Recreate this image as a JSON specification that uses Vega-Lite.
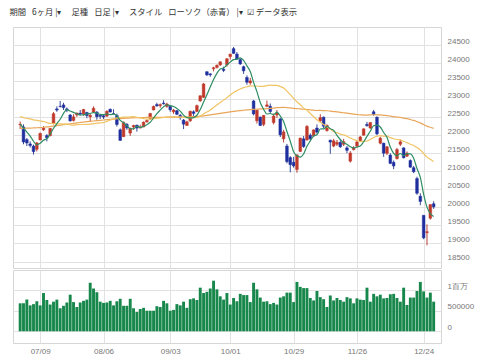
{
"$schema": "https://vega.github.io/schema/vega-lite/v6.json",
"background": "white",
"padding": {"left": 9, "top": 8, "right": 0, "bottom": 0},
"spacing": 0,
"title": {"text": "期間\u2002 6ヶ月 |▾\u2003 足種\u2002 日足 |▾\u2003 スタイル\u2002 ローソク（赤青） |▾\u2002☑ データ表示", "anchor": "start", "fontSize": 8.3, "font": "Noto Sans CJK JP", "fontWeight": "normal", "color": "#333", "offset": 10, "dx": -3},
"config": {
  "view": {"stroke": "#d6d6d6"},
  "axis": {"gridColor": "#e2e2e2", "labelFont": "Liberation Sans", "labelColor": "#777", "labelFontSize": 8, "ticks": false, "domain": false, "title": null, "labelOverlap": false},
  "axisY": {"labelOverlap": false}
},
"datasets": {"d": [
{"i":0,"d":"06/29","o":22290,"h":22380,"l":22170,"c":22305,"v":680000,"m5":22305,"m25":22515,"m75":22190},
{"i":1,"d":"07/02","o":22230,"h":22300,"l":21750,"c":21812,"v":680000,"m5":22200,"m25":22488,"m75":22192},
{"i":2,"d":"07/03","o":21880,"h":21920,"l":21700,"c":21786,"v":770000,"m5":22089,"m25":22465,"m75":22195},
{"i":3,"d":"07/04","o":21760,"h":21830,"l":21660,"c":21717,"v":630000,"m5":21978,"m25":22453,"m75":22198},
{"i":4,"d":"07/05","o":21700,"h":21740,"l":21463,"c":21547,"v":660000,"m5":21833,"m25":22427,"m75":22202},
{"i":5,"d":"07/06","o":21610,"h":21810,"l":21550,"c":21788,"v":730000,"m5":21730,"m25":22412,"m75":22207},
{"i":6,"d":"07/09","o":21870,"h":22070,"l":21860,"c":22052,"v":630000,"m5":21778,"m25":22395,"m75":22213},
{"i":7,"d":"07/10","o":22150,"h":22250,"l":22120,"c":22197,"v":930000,"m5":21860,"m25":22381,"m75":22221},
{"i":8,"d":"07/11","o":21990,"h":22030,"l":21830,"c":21932,"v":760000,"m5":21903,"m25":22353,"m75":22230},
{"i":9,"d":"07/12","o":21990,"h":22200,"l":21970,"c":22188,"v":650000,"m5":22031,"m25":22328,"m75":22241},
{"i":10,"d":"07/13","o":22330,"h":22640,"l":22300,"c":22597,"v":720000,"m5":22193,"m25":22324,"m75":22253},
{"i":11,"d":"07/17","o":22730,"h":22800,"l":22650,"c":22698,"v":770000,"m5":22322,"m25":22320,"m75":22266},
{"i":12,"d":"07/18","o":22800,"h":22950,"l":22770,"c":22794,"v":560000,"m5":22442,"m25":22316,"m75":22279},
{"i":13,"d":"07/19","o":22840,"h":22900,"l":22700,"c":22765,"v":620000,"m5":22608,"m25":22308,"m75":22292},
{"i":14,"d":"07/20","o":22730,"h":22770,"l":22640,"c":22697,"v":700000,"m5":22710,"m25":22307,"m75":22305},
{"i":15,"d":"07/23","o":22560,"h":22590,"l":22380,"c":22397,"v":890000,"m5":22670,"m25":22289,"m75":22318},
{"i":16,"d":"07/24","o":22410,"h":22580,"l":22380,"c":22510,"v":710000,"m5":22633,"m25":22282,"m75":22330},
{"i":17,"d":"07/25","o":22560,"h":22630,"l":22510,"c":22614,"v":590000,"m5":22597,"m25":22295,"m75":22342},
{"i":18,"d":"07/26","o":22610,"h":22700,"l":22550,"c":22587,"v":700000,"m5":22561,"m25":22297,"m75":22353},
{"i":19,"d":"07/27","o":22590,"h":22730,"l":22540,"c":22713,"v":740000,"m5":22564,"m25":22297,"m75":22364},
{"i":20,"d":"07/30","o":22630,"h":22650,"l":22470,"c":22545,"v":770000,"m5":22594,"m25":22299,"m75":22375},
{"i":21,"d":"07/31","o":22510,"h":22590,"l":22370,"c":22554,"v":1180000,"m5":22603,"m25":22307,"m75":22385},
{"i":22,"d":"08/01","o":22640,"h":22800,"l":22620,"c":22747,"v":1040000,"m5":22629,"m25":22323,"m75":22395},
{"i":23,"d":"08/02","o":22640,"h":22670,"l":22430,"c":22513,"v":950000,"m5":22614,"m25":22333,"m75":22405},
{"i":24,"d":"08/03","o":22550,"h":22580,"l":22450,"c":22525,"v":720000,"m5":22577,"m25":22343,"m75":22414},
{"i":25,"d":"08/06","o":22540,"h":22560,"l":22450,"c":22507,"v":690000,"m5":22569,"m25":22351,"m75":22423},
{"i":26,"d":"08/07","o":22530,"h":22690,"l":22510,"c":22663,"v":700000,"m5":22591,"m25":22385,"m75":22432},
{"i":27,"d":"08/08","o":22720,"h":22740,"l":22630,"c":22644,"v":740000,"m5":22570,"m25":22420,"m75":22440},
{"i":28,"d":"08/09","o":22600,"h":22720,"l":22580,"c":22598,"v":630000,"m5":22587,"m25":22455,"m75":22448},
{"i":29,"d":"08/10","o":22550,"h":22600,"l":22240,"c":22298,"v":730000,"m5":22542,"m25":22485,"m75":22456},
{"i":30,"d":"08/13","o":22150,"h":22190,"l":21850,"c":21857,"v":790000,"m5":22412,"m25":22488,"m75":22463},
{"i":31,"d":"08/14","o":21960,"h":22380,"l":21950,"c":22356,"v":620000,"m5":22351,"m25":22500,"m75":22469},
{"i":32,"d":"08/15","o":22300,"h":22340,"l":22150,"c":22204,"v":620000,"m5":22263,"m25":22500,"m75":22474},
{"i":33,"d":"08/16","o":22060,"h":22210,"l":21980,"c":22192,"v":790000,"m5":22181,"m25":22511,"m75":22479},
{"i":34,"d":"08/17","o":22230,"h":22290,"l":22150,"c":22270,"v":560000,"m5":22176,"m25":22514,"m75":22483},
{"i":35,"d":"08/20","o":22280,"h":22290,"l":22100,"c":22199,"v":470000,"m5":22244,"m25":22498,"m75":22486},
{"i":36,"d":"08/21","o":22200,"h":22290,"l":22190,"c":22220,"v":540000,"m5":22217,"m25":22479,"m75":22489},
{"i":37,"d":"08/22","o":22230,"h":22380,"l":22220,"c":22363,"v":570000,"m5":22249,"m25":22462,"m75":22491},
{"i":38,"d":"08/23","o":22370,"h":22440,"l":22350,"c":22411,"v":500000,"m5":22293,"m25":22447,"m75":22493},
{"i":39,"d":"08/24","o":22460,"h":22620,"l":22430,"c":22602,"v":500000,"m5":22359,"m25":22444,"m75":22495},
{"i":40,"d":"08/27","o":22700,"h":22820,"l":22690,"c":22800,"v":500000,"m5":22479,"m25":22460,"m75":22496},
{"i":41,"d":"08/28","o":22850,"h":22900,"l":22790,"c":22813,"v":610000,"m5":22598,"m25":22472,"m75":22497},
{"i":42,"d":"08/29","o":22820,"h":22880,"l":22760,"c":22848,"v":590000,"m5":22695,"m25":22481,"m75":22498},
{"i":43,"d":"08/30","o":22890,"h":22970,"l":22850,"c":22870,"v":740000,"m5":22787,"m25":22492,"m75":22499},
{"i":44,"d":"08/31","o":22800,"h":22900,"l":22760,"c":22865,"v":680000,"m5":22839,"m25":22499,"m75":22500},
{"i":45,"d":"09/03","o":22800,"h":22810,"l":22650,"c":22707,"v":500000,"m5":22821,"m25":22505,"m75":22501},
{"i":46,"d":"09/04","o":22650,"h":22730,"l":22590,"c":22697,"v":520000,"m5":22797,"m25":22511,"m75":22502},
{"i":47,"d":"09/05","o":22680,"h":22700,"l":22560,"c":22581,"v":660000,"m5":22744,"m25":22504,"m75":22503},
{"i":48,"d":"09/06","o":22550,"h":22590,"l":22430,"c":22488,"v":630000,"m5":22668,"m25":22503,"m75":22504},
{"i":49,"d":"09/07","o":22420,"h":22450,"l":22170,"c":22307,"v":720000,"m5":22556,"m25":22494,"m75":22505},
{"i":50,"d":"09/10","o":22270,"h":22400,"l":22260,"c":22373,"v":570000,"m5":22489,"m25":22489,"m75":22507},
{"i":51,"d":"09/11","o":22400,"h":22680,"l":22370,"c":22665,"v":780000,"m5":22483,"m25":22489,"m75":22510},
{"i":52,"d":"09/12","o":22650,"h":22690,"l":22530,"c":22605,"v":800000,"m5":22488,"m25":22488,"m75":22514},
{"i":53,"d":"09/13","o":22660,"h":22850,"l":22640,"c":22821,"v":760000,"m5":22554,"m25":22496,"m75":22520},
{"i":54,"d":"09/14","o":22950,"h":23100,"l":22930,"c":23095,"v":1060000,"m5":22712,"m25":22528,"m75":22528},
{"i":55,"d":"09/18","o":23050,"h":23450,"l":23030,"c":23421,"v":930000,"m5":22921,"m25":22591,"m75":22538},
{"i":56,"d":"09/19","o":23760,"h":23770,"l":23640,"c":23673,"v":960000,"m5":23123,"m25":22644,"m75":22550},
{"i":57,"d":"09/20","o":23700,"h":23720,"l":23620,"c":23675,"v":1040000,"m5":23337,"m25":22702,"m75":22563},
{"i":58,"d":"09/21","o":23840,"h":23900,"l":23770,"c":23870,"v":1230000,"m5":23547,"m25":22770,"m75":22577},
{"i":59,"d":"09/25","o":23880,"h":23960,"l":23850,"c":23940,"v":1020000,"m5":23716,"m25":22836,"m75":22591},
{"i":60,"d":"09/26","o":23950,"h":24050,"l":23920,"c":24034,"v":850000,"m5":23838,"m25":22910,"m75":22605},
{"i":61,"d":"09/27","o":23830,"h":23900,"l":23750,"c":23797,"v":770000,"m5":23863,"m25":22973,"m75":22619},
{"i":62,"d":"09/28","o":23950,"h":24130,"l":23900,"c":24120,"v":930000,"m5":23952,"m25":23043,"m75":22633},
{"i":63,"d":"10/01","o":24180,"h":24260,"l":24100,"c":24246,"v":650000,"m5":24027,"m25":23117,"m75":22647},
{"i":64,"d":"10/02","o":24400,"h":24448,"l":24250,"c":24271,"v":810000,"m5":24094,"m25":23183,"m75":22660},
{"i":65,"d":"10/03","o":24250,"h":24306,"l":24100,"c":24111,"v":730000,"m5":24109,"m25":23236,"m75":22672},
{"i":66,"d":"10/04","o":24100,"h":24130,"l":23950,"c":23976,"v":910000,"m5":24145,"m25":23282,"m75":22683},
{"i":67,"d":"10/05","o":23900,"h":23930,"l":23700,"c":23784,"v":880000,"m5":24078,"m25":23320,"m75":22693},
{"i":68,"d":"10/09","o":23600,"h":23660,"l":23400,"c":23469,"v":880000,"m5":23922,"m25":23344,"m75":22702},
{"i":69,"d":"10/10","o":23450,"h":23590,"l":23400,"c":23506,"v":710000,"m5":23769,"m25":23369,"m75":22710},
{"i":70,"d":"10/11","o":22950,"h":22980,"l":22550,"c":22591,"v":1180000,"m5":23465,"m25":23365,"m75":22717},
{"i":71,"d":"10/12","o":22400,"h":22700,"l":22323,"c":22695,"v":1020000,"m5":23209,"m25":23365,"m75":22723},
{"i":72,"d":"10/15","o":22500,"h":22520,"l":22260,"c":22271,"v":820000,"m5":22906,"m25":23352,"m75":22728},
{"i":73,"d":"10/16","o":22300,"h":22560,"l":22250,"c":22549,"v":720000,"m5":22722,"m25":23355,"m75":22733},
{"i":74,"d":"10/17","o":22800,"h":22960,"l":22780,"c":22841,"v":730000,"m5":22589,"m25":23376,"m75":22738},
{"i":75,"d":"10/18","o":22800,"h":22880,"l":22600,"c":22658,"v":660000,"m5":22603,"m25":23387,"m75":22743},
{"i":76,"d":"10/19","o":22350,"h":22600,"l":22300,"c":22532,"v":690000,"m5":22570,"m25":23382,"m75":22752},
{"i":77,"d":"10/22","o":22560,"h":22700,"l":22480,"c":22615,"v":650000,"m5":22639,"m25":23382,"m75":22763},
{"i":78,"d":"10/23","o":22450,"h":22480,"l":21950,"c":22011,"v":820000,"m5":22531,"m25":23350,"m75":22767},
{"i":79,"d":"10/24","o":21900,"h":22150,"l":21800,"c":22091,"v":850000,"m5":22381,"m25":23310,"m75":22774},
{"i":80,"d":"10/25","o":21700,"h":21760,"l":21220,"c":21269,"v":940000,"m5":22104,"m25":23224,"m75":22767},
{"i":81,"d":"10/26","o":21380,"h":21420,"l":20971,"c":21185,"v":940000,"m5":21834,"m25":23124,"m75":22756},
{"i":82,"d":"10/29","o":21250,"h":21400,"l":21100,"c":21150,"v":710000,"m5":21541,"m25":23023,"m75":22742},
{"i":83,"d":"10/30","o":21050,"h":21460,"l":20960,"c":21457,"v":1200000,"m5":21430,"m25":22927,"m75":22736},
{"i":84,"d":"10/31","o":21550,"h":21930,"l":21540,"c":21920,"v":1080000,"m5":21396,"m25":22846,"m75":22732},
{"i":85,"d":"11/01","o":21900,"h":21980,"l":21650,"c":21688,"v":1050000,"m5":21480,"m25":22752,"m75":22720},
{"i":86,"d":"11/02","o":21870,"h":22280,"l":21850,"c":22244,"v":1050000,"m5":21692,"m25":22690,"m75":22714},
{"i":87,"d":"11/05","o":22000,"h":22050,"l":21860,"c":21899,"v":810000,"m5":21842,"m25":22601,"m75":22702},
{"i":88,"d":"11/06","o":21980,"h":22160,"l":21950,"c":22148,"v":750000,"m5":21980,"m25":22517,"m75":22694},
{"i":89,"d":"11/07","o":22200,"h":22300,"l":22040,"c":22086,"v":980000,"m5":22013,"m25":22430,"m75":22686},
{"i":90,"d":"11/08","o":22400,"h":22583,"l":22350,"c":22487,"v":830000,"m5":22173,"m25":22365,"m75":22687},
{"i":91,"d":"11/09","o":22500,"h":22520,"l":22200,"c":22250,"v":780000,"m5":22174,"m25":22296,"m75":22683},
{"i":92,"d":"11/12","o":22130,"h":22300,"l":22100,"c":22270,"v":590000,"m5":22248,"m25":22235,"m75":22679},
{"i":93,"d":"11/13","o":21860,"h":21880,"l":21484,"c":21811,"v":870000,"m5":22181,"m25":22169,"m75":22668},
{"i":94,"d":"11/14","o":21700,"h":21900,"l":21670,"c":21846,"v":750000,"m5":22133,"m25":22103,"m75":22657},
{"i":95,"d":"11/15","o":21750,"h":21870,"l":21700,"c":21804,"v":810000,"m5":21996,"m25":22071,"m75":22647},
{"i":96,"d":"11/16","o":21800,"h":21860,"l":21650,"c":21680,"v":760000,"m5":21882,"m25":22030,"m75":22635},
{"i":97,"d":"11/19","o":21750,"h":21900,"l":21700,"c":21821,"v":720000,"m5":21792,"m25":22012,"m75":22623},
{"i":98,"d":"11/20","o":21650,"h":21700,"l":21500,"c":21583,"v":830000,"m5":21747,"m25":21974,"m75":22611},
{"i":99,"d":"11/21","o":21280,"h":21560,"l":21243,"c":21508,"v":800000,"m5":21679,"m25":21921,"m75":22597},
{"i":100,"d":"11/22","o":21600,"h":21700,"l":21580,"c":21647,"v":680000,"m5":21648,"m25":21880,"m75":22585},
{"i":101,"d":"11/26","o":21700,"h":21850,"l":21650,"c":21812,"v":800000,"m5":21674,"m25":21851,"m75":22574},
{"i":102,"d":"11/27","o":21850,"h":21980,"l":21820,"c":21952,"v":770000,"m5":21700,"m25":21825,"m75":22565},
{"i":103,"d":"11/28","o":22000,"h":22190,"l":21990,"c":22177,"v":760000,"m5":21819,"m25":21831,"m75":22559},
{"i":104,"d":"11/29","o":22300,"h":22370,"l":22240,"c":22263,"v":1060000,"m5":21970,"m25":21838,"m75":22559},
{"i":105,"d":"11/30","o":22200,"h":22360,"l":22180,"c":22351,"v":720000,"m5":22111,"m25":21882,"m75":22565},
{"i":106,"d":"12/03","o":22650,"h":22700,"l":22540,"c":22575,"v":910000,"m5":22264,"m25":21937,"m75":22568},
{"i":107,"d":"12/04","o":22500,"h":22520,"l":22000,"c":22036,"v":850000,"m5":22280,"m25":21973,"m75":22566},
{"i":108,"d":"12/05","o":21780,"h":21960,"l":21750,"c":21919,"v":890000,"m5":22229,"m25":21991,"m75":22562},
{"i":109,"d":"12/06","o":21780,"h":21790,"l":21400,"c":21502,"v":800000,"m5":22077,"m25":21974,"m75":22552},
{"i":110,"d":"12/07","o":21500,"h":21700,"l":21450,"c":21679,"v":810000,"m5":21942,"m25":21974,"m75":22545},
{"i":111,"d":"12/10","o":21450,"h":21500,"l":21200,"c":21220,"v":900000,"m5":21671,"m25":21933,"m75":22532},
{"i":112,"d":"12/11","o":21250,"h":21300,"l":21060,"c":21148,"v":910000,"m5":21494,"m25":21903,"m75":22516},
{"i":113,"d":"12/12","o":21350,"h":21650,"l":21330,"c":21603,"v":810000,"m5":21430,"m25":21881,"m75":22505},
{"i":114,"d":"12/13","o":21750,"h":21880,"l":21700,"c":21816,"v":720000,"m5":21493,"m25":21870,"m75":22495},
{"i":115,"d":"12/14","o":21650,"h":21660,"l":21360,"c":21375,"v":1060000,"m5":21432,"m25":21826,"m75":22476},
{"i":116,"d":"12/17","o":21420,"h":21550,"l":21400,"c":21507,"v":640000,"m5":21490,"m25":21796,"m75":22458},
{"i":117,"d":"12/18","o":21300,"h":21330,"l":21100,"c":21115,"v":820000,"m5":21483,"m25":21750,"m75":22435},
{"i":118,"d":"12/19","o":21100,"h":21150,"l":20950,"c":20988,"v":820000,"m5":21360,"m25":21717,"m75":22410},
{"i":119,"d":"12/20","o":20800,"h":20850,"l":20350,"c":20393,"v":980000,"m5":21076,"m25":21659,"m75":22377},
{"i":120,"d":"12/21","o":20310,"h":20390,"l":20060,"c":20166,"v":1200000,"m5":20834,"m25":21593,"m75":22343},
{"i":121,"d":"12/25","o":19780,"h":19780,"l":19117,"c":19156,"v":970000,"m5":20364,"m25":21492,"m75":22296},
{"i":122,"d":"12/26","o":19300,"h":19530,"l":18948,"c":19327,"v":820000,"m5":20006,"m25":21393,"m75":22252},
{"i":123,"d":"12/27","o":19700,"h":20080,"l":19660,"c":20078,"v":940000,"m5":19824,"m25":21333,"m75":22220},
{"i":124,"d":"12/28","o":20100,"h":20170,"l":19960,"c":20015,"v":720000,"m5":19748,"m25":21273,"m75":22190}
]},
"vconcat": [
  {
    "width": 428, "height": 241,
    "data": {"name": "d"},
    "encoding": {
      "x": {"field": "i", "type": "quantitative", "scale": {"domain": [-0.65, 124.7], "nice": false, "zero": false},
            "axis": {"values": [6,25,45,63,82,101,121], "labels": false, "grid": true, "title": null}}
    },
    "layer": [
      {"mark": {"type": "rule", "strokeWidth": 1},
       "encoding": {
         "y": {"field": "l", "type": "quantitative", "scale": {"domain": [18320, 25000], "nice": false, "zero": false},
               "axis": {"orient": "right", "values": [18500,19000,19500,20000,20500,21000,21500,22000,22500,23000,23500,24000,24500], "format": "d", "grid": true, "labelPadding": 6, "labelBaseline": "middle", "labelOffset": -4, "labelOverlap": false, "title": null}},
         "y2": {"field": "h"},
         "color": {"condition": {"test": "datum.c >= datum.o", "value": "#b8403a"}, "value": "#3a4a9a"}
       }},
      {"mark": {"type": "bar", "size": 2.7, "strokeWidth": 0.5},
       "encoding": {
         "y": {"field": "o", "type": "quantitative", "axis": {"orient": "right", "values": [18500,19000,19500,20000,20500,21000,21500,22000,22500,23000,23500,24000,24500], "format": "d", "grid": true, "labelPadding": 6, "labelBaseline": "middle", "labelOffset": -4, "labelOverlap": false, "title": null}},
         "y2": {"field": "c"},
         "color": {"condition": {"test": "datum.c >= datum.o", "value": "#c0392b"}, "value": "#1f2f9e"},
         "stroke": {"condition": {"test": "datum.c >= datum.o", "value": "#c0392b"}, "value": "#1f2f9e"}
       }},
      {"mark": {"type": "line", "color": "#e9a65a", "strokeWidth": 1.2, "interpolate": "monotone"},
       "encoding": {"y": {"field": "m75", "type": "quantitative", "axis": {"orient": "right", "values": [18500,19000,19500,20000,20500,21000,21500,22000,22500,23000,23500,24000,24500], "format": "d", "grid": true, "labelPadding": 6, "labelBaseline": "middle", "labelOffset": -4, "labelOverlap": false, "title": null}}}},
      {"mark": {"type": "line", "color": "#f0c463", "strokeWidth": 1.2, "interpolate": "monotone"},
       "encoding": {"y": {"field": "m25", "type": "quantitative", "axis": {"orient": "right", "values": [18500,19000,19500,20000,20500,21000,21500,22000,22500,23000,23500,24000,24500], "format": "d", "grid": true, "labelPadding": 6, "labelBaseline": "middle", "labelOffset": -4, "labelOverlap": false, "title": null}}}},
      {"mark": {"type": "line", "color": "#2e8d63", "strokeWidth": 1.2, "interpolate": "monotone"},
       "encoding": {"y": {"field": "m5", "type": "quantitative", "axis": {"orient": "right", "values": [18500,19000,19500,20000,20500,21000,21500,22000,22500,23000,23500,24000,24500], "format": "d", "grid": true, "labelPadding": 6, "labelBaseline": "middle", "labelOffset": -4, "labelOverlap": false, "title": null}}}}
    ]
  },
  {
    "width": 428, "height": 73,
    "data": {"name": "d"},
    "mark": {"type": "bar", "size": 2.9, "color": "#17874b"},
    "encoding": {
      "x": {"field": "i", "type": "quantitative", "scale": {"domain": [-0.65, 124.7], "nice": false, "zero": false},
            "axis": {"values": [6,25,45,63,82,101,121], "grid": true, "labelPadding": 4, "title": null,
                     "labelExpr": "['07/09','08/06','09/03','10/01','10/29','11/26','12/24'][indexof([6,25,45,63,82,101,121], datum.value)]"}},
      "y": {"field": "v", "type": "quantitative", "scale": {"domain": [-285000, 1490000], "nice": false, "zero": false},
            "axis": {"orient": "right", "values": [0, 500000, 1000000], "grid": true, "labelPadding": 6, "labelBaseline": "middle", "labelOffset": -4, "title": null, "labelOverlap": false,
                     "labelExpr": "datum.value == 1000000 ? '1百万' : format(datum.value, 'd')"}},
      "y2": {"datum": 0}
    }
  }
]
}
